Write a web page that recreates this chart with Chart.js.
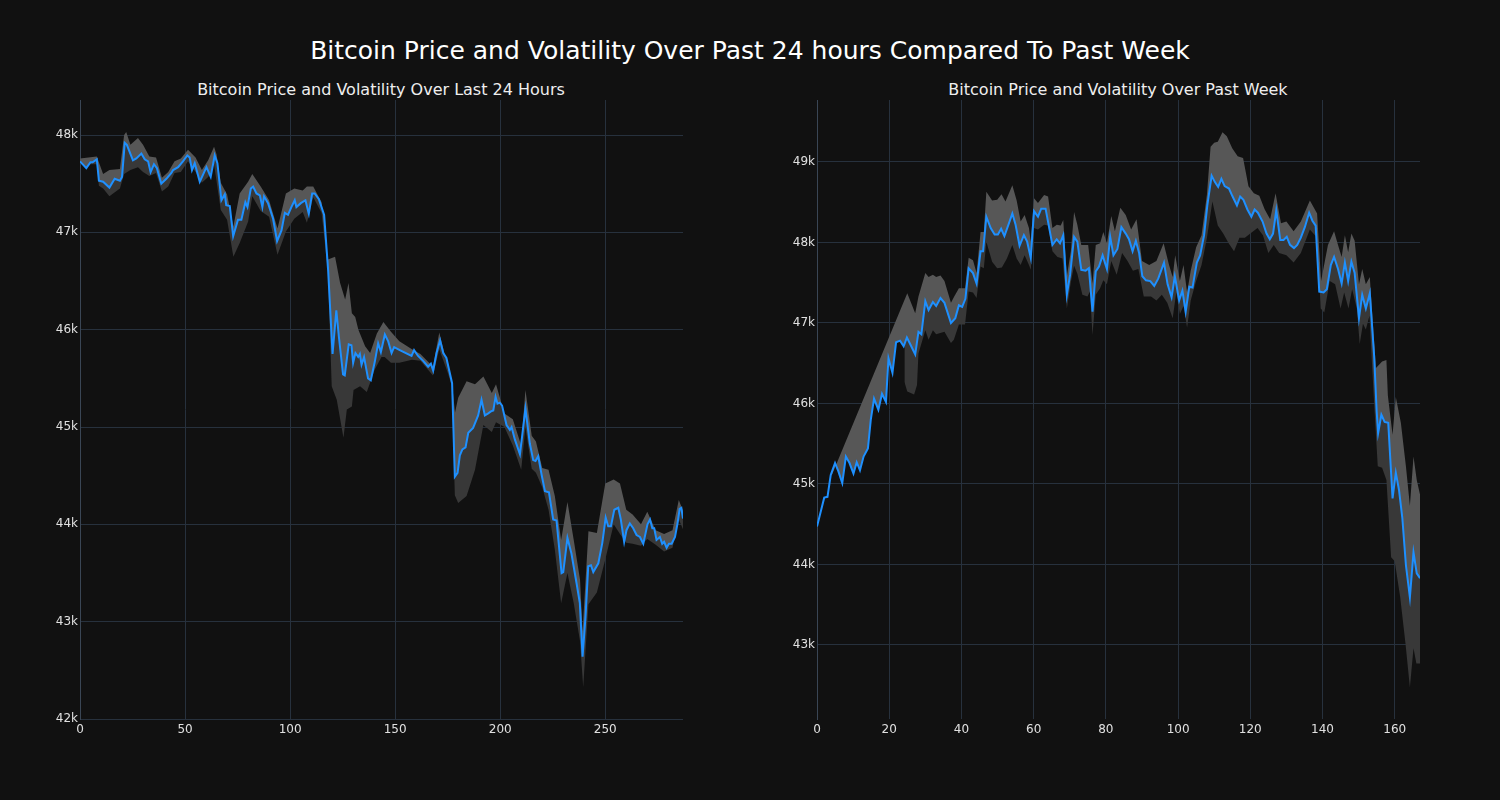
<!DOCTYPE html>
<html>
<head>
<meta charset="utf-8">
<script src="https://cdn.jsdelivr.net/npm/chart.js@4.4.1/dist/chart.umd.min.js"></script>
<style>
  body { margin: 0; background: #111111; width: 1500px; height: 800px; overflow: hidden; font-family: "DejaVu Sans", sans-serif; }
  .title { position: absolute; color: #ffffff; white-space: nowrap; transform: translate(-50%, -50%); }
  #mainTitle { left: 750px; top: 50px; font-size: 25px; }
  .sub { font-size: 16px; top: 89px; color: #eeeeee; }
  canvas { position: absolute; top: 95px; }
</style>
</head>
<body>
<div class="title" id="mainTitle">Bitcoin Price and Volatility Over Past 24 hours Compared To Past Week</div>
<div class="title sub" style="left: 381px;">Bitcoin Price and Volatility Over Last 24 Hours</div>
<div class="title sub" style="left: 1118px;">Bitcoin Price and Volatility Over Past Week</div>
<canvas id="dayChart" width="700" height="650" style="left: 0px;"></canvas>
<canvas id="weekChart" width="700" height="650" style="left: 737px;"></canvas>
<script>
// last 24 hours (5 minute steps)
var dayX = [0, 3, 5, 6, 8, 9, 11, 14, 16.5, 19, 20, 21.3, 22.3, 25.2, 26.8, 29.2, 30.8, 32.4, 33.6, 35.2, 36.6, 38.7, 41.1, 43.5, 44.3, 46.7, 49, 51.1, 52.2, 53.3, 54.6, 57, 60.2, 62.2, 64.1, 65.4, 67.3, 68.9, 69.6, 71.3, 72.9, 75.2, 76.8, 78.7, 79.7, 81.3, 82.4, 84, 85.6, 86.8, 87.6, 89.5, 91.9, 93.8, 95.9, 97.5, 99, 100.6, 102.2, 103, 105.1, 107.3, 108.9, 110.5, 111.7, 113.7, 116.2, 118.1, 120.2, 122, 123.2, 125.2, 126, 127.9, 129.2, 130, 131.1, 132.4, 133.2, 134, 135.2, 137.1, 138.4, 140.3, 141.9, 143.2, 145.1, 146.7, 148.3, 149.5, 152.2, 157.8, 159, 160.9, 163.3, 165.7, 167, 168.1, 169.7, 171.4, 172.9, 174.4, 177.1, 178.4, 179.7, 180.8, 182, 183.5, 184.8, 187.1, 189.5, 191.1, 192.7, 194.3, 195.6, 196.7, 197.8, 198.7, 199.8, 200.9, 203, 204.6, 205.4, 207, 209.4, 212, 214.1, 215.7, 216.8, 218.1, 219.7, 221.3, 223.2, 225.2, 226.8, 229.2, 230, 232, 233.9, 236.3, 237.9, 239.2, 240.6, 241.9, 243.2, 244.3, 246.7, 248.6, 250.2, 251.4, 252.7, 254.3, 256.2, 257.4, 259, 260.1, 261.7, 263.3, 264.9, 266.5, 268.1, 270.1, 271.3, 272.4, 273.3, 274.4, 276, 277.1, 278, 279.2, 280.3, 281.6, 283.2, 284.4, 285.4, 286.2, 287];
var dayPrice = [47730, 47660, 47720, 47720, 47750, 47530, 47520, 47460, 47550, 47530, 47570, 47920, 47900, 47740, 47760, 47810, 47750, 47730, 47620, 47700, 47660, 47500, 47550, 47610, 47640, 47670, 47730, 47790, 47770, 47640, 47710, 47520, 47670, 47570, 47790, 47710, 47330, 47390, 47280, 47270, 46960, 47130, 47130, 47310, 47260, 47450, 47470, 47400, 47380, 47260, 47370, 47300, 47140, 46910, 47020, 47200, 47180, 47260, 47330, 47260, 47300, 47330, 47190, 47400, 47400, 47340, 47180, 46610, 45750, 46200, 45930, 45540, 45530, 45850, 45840, 45660, 45760, 45720, 45750, 45640, 45720, 45500, 45480, 45670, 45860, 45770, 45950, 45880, 45760, 45820, 45790, 45730, 45790, 45730, 45680, 45620, 45650, 45580, 45760, 45890, 45760, 45710, 45450, 44490, 44530, 44710, 44770, 44790, 44940, 44990, 45120, 45280, 45120, 45140, 45160, 45170, 45310, 45240, 45250, 45220, 45020, 44970, 45000, 44870, 44720, 45190, 44830, 44660, 44650, 44700, 44510, 44340, 44330, 44050, 44040, 43500, 43510, 43860, 43700, 43400, 43190, 42640, 43050, 43570, 43580, 43510, 43600, 43810, 44070, 43980, 43980, 44150, 44170, 44050, 43820, 43940, 44010, 43960, 43890, 43870, 43800, 44000, 44050, 43960, 43960, 43840, 43870, 43800, 43820, 43760, 43800, 43800, 43870, 44010, 44160, 44170, 44060];
var dayUpperX = [0, 8, 11, 14, 19, 21, 22, 24, 27.6, 30, 33, 36.2, 39, 42, 45, 48, 51.4, 55, 58, 61, 63.8, 65, 67, 70, 73, 76, 80, 82, 86, 90, 94, 98, 102, 106, 108, 111, 115, 118, 121.4, 123.8, 126.2, 127.8, 129.4, 131, 132.5, 135.7, 138.1, 141.3, 144.4, 148, 152, 158, 162, 168, 171, 175, 177, 178.5, 180, 184, 188, 192, 196, 198, 202, 206, 210, 212, 215, 217, 220, 223, 226, 229, 232, 235, 238, 239.2, 242, 246, 250, 254, 257, 260, 263, 267, 270, 274, 278, 282, 285, 287];
var dayUpper = [47760, 47780, 47600, 47640, 47650, 48000, 48030, 47900, 47970, 47900, 47780, 47770, 47560, 47620, 47730, 47760, 47850, 47770, 47640, 47740, 47880, 47800, 47510, 47390, 47060, 47400, 47520, 47600, 47470, 47330, 47040, 47400, 47450, 47430, 47470, 47470, 47310, 46720, 46750, 46480, 46310, 46480, 46170, 46130, 46000, 45830, 45760, 45960, 46080, 45980, 45880, 45800, 45750, 45620, 45970, 45620, 45460, 45150, 45300, 45470, 45440, 45520, 45350, 45440, 45140, 45080, 44810, 45380, 44910, 44850, 44580, 44560, 44290, 43840, 44230, 43840, 43430, 42900, 43930, 43910, 44420, 44460, 44420, 44150, 44100, 44000, 44130, 43940, 43900, 43940, 44250, 44140];
var dayLowerX = [0, 8, 9, 11, 14, 19, 21, 24, 27.6, 30, 33, 36.2, 39, 42, 45, 48, 51.4, 55, 58, 61, 63.8, 67, 70, 73, 76, 80, 82, 86, 90, 94, 98, 102, 106, 108, 111, 115, 118, 119.8, 122.2, 125.4, 127, 129.4, 130.2, 133.3, 136.5, 140.3, 143.5, 145, 148, 152, 158, 162, 168, 171, 175, 177, 178.4, 180, 184, 188, 192, 196, 198, 202, 206, 210, 212, 215, 217, 220, 223, 226, 229, 232, 235, 238, 239.5, 242, 246, 250, 254, 257, 260, 263, 267, 270, 274, 278, 282, 285, 287];
var dayLower = [47700, 47700, 47480, 47450, 47370, 47450, 47600, 47640, 47670, 47620, 47580, 47610, 47420, 47470, 47610, 47620, 47730, 47620, 47510, 47570, 47700, 47230, 47130, 46750, 46890, 47110, 47370, 47220, 47160, 46770, 47010, 47140, 47210, 47100, 47360, 47200, 46600, 45420, 45280, 44890, 45180, 45210, 45380, 45420, 45360, 45590, 45720, 45720, 45660, 45660, 45690, 45680, 45530, 45800, 45560, 45420, 44300, 44220, 44290, 44560, 45020, 44950, 45050, 45000, 44810, 44560, 45000, 44570, 44530, 44380, 44150, 43740, 43190, 43500, 43190, 42800, 42330, 43180, 43300, 43640, 44000, 43900, 43810, 43800, 43780, 43850, 43790, 43720, 43760, 44050, 43950];
var dayXTicks = [0, 50, 100, 150, 200, 250];
var dayYTicks = [42000, 43000, 44000, 45000, 46000, 47000, 48000];

// past week (hourly)
var weekX = [0, 2, 2.9, 3.8, 5, 5.9, 7, 8, 9, 10.1, 11, 11.9, 12.9, 14.1, 14.9, 15.8, 17, 18, 19.1, 19.8, 20.9, 21.9, 23, 24, 24.9, 26, 27.2, 28.1, 28.9, 30, 30.9, 32.1, 33, 34.2, 35.3, 37.1, 38.3, 39.3, 40.2, 41.1, 42, 43.2, 44.2, 45.3, 46, 46.9, 48.1, 49.2, 50.1, 51, 51.9, 53.1, 54.1, 55, 56.1, 57.3, 58.2, 59.2, 60.1, 61.2, 62.1, 63.3, 65.2, 66.4, 67.3, 68.2, 69.2, 70.1, 71.2, 72.1, 73.2, 74.4, 75.3, 76.3, 77.2, 78.1, 79.1, 80.3, 81.2, 82.1, 83.2, 84.3, 85.5, 86.4, 87.4, 88.3, 89.2, 90.1, 91.1, 92.3, 93.4, 94.5, 95.3, 96.1, 97.1, 98.2, 99.1, 100.3, 101.2, 102.1, 103.1, 104, 105.2, 106.1, 107.2, 108.1, 109.3, 110.2, 111.1, 112, 112.9, 114.1, 115, 116.3, 117.2, 118.1, 119.2, 120.3, 121.2, 122.1, 123.4, 124.5, 125.4, 126.3, 127.2, 128.3, 129.2, 130.1, 131, 132.1, 133, 134, 135.1, 136.3, 137.2, 138.1, 139.1, 140.3, 141.2, 142.3, 143.2, 144.3, 145.3, 146.2, 147.1, 148, 148.9, 150.1, 151, 152, 153.1, 154.3, 155, 155.4, 156.3, 157.2, 158.2, 159.4, 160.3, 161.2, 162.1, 163.1, 164.2, 165.2, 166.1, 167];
var weekPrice = [44470, 44830, 44840, 45110, 45260, 45160, 45010, 45340, 45260, 45130, 45270, 45170, 45340, 45440, 45800, 46060, 45920, 46120, 46020, 46560, 46380, 46760, 46780, 46710, 46820, 46720, 46610, 46890, 46860, 47270, 47160, 47260, 47210, 47310, 47250, 47000, 47060, 47220, 47200, 47300, 47680, 47620, 47490, 47890, 47890, 48320, 48180, 48100, 48100, 48170, 48080, 48230, 48360, 48220, 47960, 48090, 48010, 47810, 48390, 48320, 48420, 48420, 47970, 48040, 47990, 48090, 47350, 47600, 48070, 48010, 47660, 47650, 47680, 47140, 47640, 47700, 47840, 47670, 48070, 47840, 47920, 48190, 48110, 48040, 47890, 48020, 47870, 47580, 47530, 47520, 47460, 47550, 47650, 47750, 47480, 47320, 47580, 47280, 47400, 47140, 47450, 47440, 47750, 47840, 48090, 48460, 48830, 48750, 48690, 48790, 48700, 48670, 48580, 48460, 48570, 48530, 48410, 48320, 48410, 48370, 48260, 48110, 48040, 48110, 48400, 48030, 48030, 48070, 47970, 47930, 47970, 48060, 48190, 48370, 48270, 48210, 47390, 47380, 47420, 47720, 47820, 47670, 47490, 47750, 47520, 47760, 47620, 47060, 47350, 47180, 47370, 46590, 45900, 45630, 45860, 45770, 45760, 44820, 45140, 44920, 44580, 43990, 43590, 44150, 43890, 43830];
var weekUpperX = [4, 25, 27.2, 28.1, 30, 30.9, 32.1, 33, 34.2, 35.3, 37.1, 38, 39.3, 41, 42, 43.2, 44.2, 45.3, 46.2, 46.9, 48.5, 49.9, 51.1, 52.2, 54.1, 55.3, 56.4, 57.5, 58.7, 59.2, 60.1, 61.2, 62.9, 64, 65.2, 66.4, 67.5, 68.2, 69.2, 70.3, 71.2, 72.1, 73.2, 75.1, 76.3, 77.2, 78.4, 79.3, 80.3, 81.5, 82.5, 84, 85.5, 87, 88.5, 90, 92, 94, 96, 97.5, 98.5, 99.2, 100.5, 101.5, 102.5, 103.5, 105, 106.5, 108, 109, 110, 111, 112.3, 113.5, 115, 116.5, 118, 119.5, 121, 122.5, 124, 125.5, 127, 128.5, 130, 132, 134, 136.5, 138.5, 139.6, 141.5, 143.2, 144.3, 145.3, 146.2, 147.1, 148, 148.9, 150.1, 151, 152, 153.1, 154.1, 154.8, 156.5, 157.7, 158.1, 159.4, 160.3, 161.7, 163.1, 164.2, 165.2, 166.1, 167];
var weekUpper = [45100, 47370, 47120, 47330, 47620, 47570, 47600, 47570, 47590, 47520, 47250, 47330, 47430, 47430, 47810, 47780, 47620, 48130, 48130, 48630, 48520, 48530, 48600, 48510, 48710, 48520, 48260, 48340, 48180, 48010, 48550, 48490, 48590, 48570, 48180, 48220, 48210, 48280, 47580, 47890, 48380, 48220, 47970, 47970, 47490, 47970, 47990, 48130, 47990, 48330, 48140, 48430, 48340, 48160, 48290, 47770, 47720, 47770, 47990, 47720, 47570, 47840, 47520, 47720, 47380, 47650, 47940, 48090, 48600, 49190, 49240, 49250, 49370, 49320, 49170, 49070, 49050, 48700, 48610, 48580, 48410, 48290, 48610, 48240, 48260, 48140, 48260, 48520, 48360, 47520, 47970, 48140, 47970, 47820, 48090, 47880, 48110, 48020, 47480, 47670, 47480, 47570, 46890, 46440, 46520, 46540, 46100, 45610, 46080, 45760, 45220, 44730, 45340, 45050, 44870];
var weekLowerX = [24.2, 25, 26.9, 27.7, 28.1, 30, 30.9, 32.1, 33, 35.3, 37.1, 37.9, 39.3, 41, 42, 43.2, 44.2, 45.3, 46.2, 46.9, 48.5, 49.9, 51.2, 52.6, 54.1, 55.3, 56.4, 57.5, 58.7, 59.2, 60.1, 61.2, 62.9, 64, 65.2, 66.6, 68, 69.2, 70.3, 71.2, 72.1, 73.5, 74.9, 75.6, 76.3, 77.2, 78.4, 79.3, 80.3, 81.5, 83, 84.5, 86, 87.5, 89, 90.5, 92.5, 94, 95.5, 97, 98.5, 99.5, 100.5, 101.5, 102.5, 103.5, 105, 106.5, 108, 109.5, 111, 112.5, 114, 115.5, 117, 118.5, 120, 122, 123.5, 125, 126.5, 128, 130, 132, 134, 136.5, 138.5, 139.5, 140.5, 142, 143.5, 145, 146, 147.2, 148.2, 149.5, 150.3, 151.2, 152, 153, 154.3, 155.3, 156.5, 157.7, 159, 160, 161.5, 163, 164.2, 165.2, 166, 167];
var weekLower = [46270, 46150, 46110, 46230, 46620, 46910, 46790, 46910, 46860, 46890, 46750, 46790, 46980, 46980, 47390, 47380, 47310, 47700, 47680, 48010, 47760, 47680, 47690, 47800, 47970, 47800, 47720, 47840, 47720, 47660, 48180, 48160, 48220, 48210, 47890, 47820, 47800, 47180, 47510, 47710, 47610, 47350, 47330, 47390, 46850, 47350, 47430, 47530, 47480, 47770, 47600, 47870, 47770, 47650, 47670, 47330, 47330, 47280, 47350, 47250, 47060, 47380, 47110, 47210, 46940, 47280, 47520, 47720, 48060, 48510, 48210, 48110, 47990, 47890, 48060, 48060, 48110, 48180, 48090, 47870, 47970, 47870, 47840, 47750, 47870, 48160, 48060, 47180, 47130, 47520, 47480, 47180, 47380, 47180, 47420, 47180, 46740, 46990, 46920, 47090, 46000, 45220, 45200, 45050, 44090, 44040, 43600, 43010, 42470, 42960, 42770, 42770];
var weekXTicks = [0, 20, 40, 60, 80, 100, 120, 140, 160];
var weekYTicks = [43000, 44000, 45000, 46000, 47000, 48000, 49000];

var lineColor = "#1e90ff";
var upperFill = "#575757";
var lowerFill = "#383838";
var gridColor = "#27313d";
var tickColor = "#e0e0e0";

function pts(xs, ys) {
  return xs.map(function(x, i) {
    return { x: x, y: ys[i] };
  });
}

function fixTicks(values) {
  return function(scale) {
    scale.ticks = values.map(function(v) { return { value: v }; });
  };
}

function makeChart(id, priceX, price, upX, up, loX, lo, xTicks, yTicks, xMax, yMin, yMax) {
  var ctx = document.getElementById(id);
  return new Chart(ctx, {
    type: "line",
    data: {
      datasets: [
        {
          label: "Price",
          data: pts(priceX, price),
          borderColor: lineColor,
          borderWidth: 2,
          pointRadius: 0,
          tension: 0,
          fill: false
        },
        {
          label: "Upper",
          data: pts(upX, up),
          borderWidth: 0,
          pointRadius: 0,
          tension: 0,
          backgroundColor: upperFill,
          fill: { target: 0, above: upperFill, below: upperFill }
        },
        {
          label: "Lower",
          data: pts(loX, lo),
          borderWidth: 0,
          pointRadius: 0,
          tension: 0,
          backgroundColor: lowerFill,
          fill: { target: 0, above: lowerFill, below: lowerFill }
        }
      ]
    },
    options: {
      responsive: false,
      animation: false,
      events: [],
      layout: { padding: { top: 5, right: 17, left: 0, bottom: 0 } },
      plugins: {
        legend: { display: false },
        tooltip: { enabled: false },
        title: { display: false }
      },
      scales: {
        x: {
          type: "linear",
          min: 0,
          max: xMax,
          grid: { color: gridColor, drawTicks: false },
          border: { display: false },
          afterBuildTicks: fixTicks(xTicks),
          ticks: {
            color: tickColor,
            padding: 4,
            maxRotation: 0,
            autoSkip: false,
            font: { family: "DejaVu Sans", size: 12 }
          },
          afterFit: function(scale) {
            scale.height = 26;
            scale.paddingLeft = 0;
            scale.paddingRight = 0;
          }
        },
        y: {
          type: "linear",
          min: yMin,
          max: yMax,
          grid: { color: gridColor, drawTicks: false },
          border: { display: true, color: "#3a4655", width: 1 },
          afterBuildTicks: fixTicks(yTicks),
          ticks: {
            color: tickColor,
            padding: 2,
            autoSkip: false,
            font: { family: "DejaVu Sans", size: 12 },
            callback: function(v) { return v / 1000 + "k"; }
          },
          afterFit: function(scale) {
            scale.width = 80;
            scale.paddingTop = 0;
            scale.paddingBottom = 0;
          }
        }
      }
    }
  });
}

document.addEventListener("DOMContentLoaded", function(e) {
  makeChart("dayChart", dayX, dayPrice, dayUpperX, dayUpper, dayLowerX, dayLower, dayXTicks, dayYTicks, 287, 42000, 48360);
  makeChart("weekChart", weekX, weekPrice, weekUpperX, weekUpper, weekLowerX, weekLower, weekXTicks, weekYTicks, 167, 42080, 49770);
});
</script>
</body>
</html>
